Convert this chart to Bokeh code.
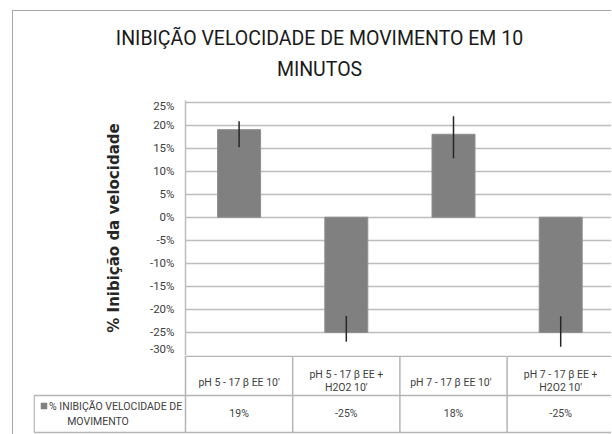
from bokeh.plotting import figure
from bokeh.layouts import column
from bokeh.models import Range1d, FixedTicker, PrintfTickFormatter
from bokeh.core.properties import value
from bokeh.embed import file_html
from bokeh.resources import INLINE

# ---- data ----
categories = ["pH 5 - 17 \u03b2 EE 10'", "pH 5 - 17 \u03b2 EE +\nH2O2 10'",
              "pH 7  - 17 \u03b2 EE  10'", "pH 7 - 17 \u03b2 EE +\nH2O2 10'"]
values = [19, -25, 18, -25]
err_upper = [20.8, -21.4, 21.9, -21.5]
err_lower = [15.2, -27.0, 12.8, -28.1]
value_labels = ["19%", "-25%", "18%", "-25%"]
series_name = ["% INIBI\u00c7\u00c3O VELOCIDADE DE", "MOVIMENTO"]
y_ticks = [-30, -25, -20, -15, -10, -5, 0, 5, 10, 15, 20, 25]
title_lines = ["INIBI\u00c7\u00c3O VELOCIDADE DE MOVIMENTO EM 10", "MINUTOS"]
y_title = "% Inibi\u00e7\u00e3o da velocidade"

# ---- layout constants (pixels) ----
FONT = "Roboto"
W = 598
CAT_PX = 107.2
HEAD_H = 87
FRAME_L = 172            # chart frame left (canvas)
CHART_H = 257
FRAME_T = 2
TBL_L = 20               # table frame left (canvas)
TBL_H = 79

n = len(categories)
xs = [i + 1 for i in range(n)]
x_end = 0.5 + (W - FRAME_L) / CAT_PX

# ---- title block ----
h = figure(width=W, height=HEAD_H, output_backend="svg", toolbar_location=None,
           x_range=Range1d(0, W), y_range=Range1d(HEAD_H, 0),
           x_axis_location=None, y_axis_location=None,
           min_border_left=0, min_border_right=0, min_border_top=0, min_border_bottom=0)
h.outline_line_color = None
h.grid.visible = False
h.frame_align = False
h.text(x=[306, 306], y=[27, 58], text=title_lines, text_align="center", text_baseline="middle",
       text_font=value(FONT), text_font_size="19.5px", text_color="#1a1a1a")

# ---- chart ----
frame_h = CHART_H - FRAME_T
px_per_pct = 253.5 / 55.0
y_top = y_ticks[-1] + (frame_h - 253.5) / px_per_pct

p = figure(width=W, height=CHART_H, output_backend="svg", toolbar_location=None,
           x_range=Range1d(0.5, x_end), y_range=Range1d(y_ticks[0], y_top),
           x_axis_location=None, min_border_left=FRAME_L, min_border_right=0,
           min_border_top=FRAME_T, min_border_bottom=0)
p.frame_align = False
p.outline_line_color = None
p.xgrid.visible = False
p.ygrid.ticker = FixedTicker(ticks=y_ticks)
p.ygrid.grid_line_color = "#bdbdbd"
p.ygrid.grid_line_width = 1.5
ax = p.yaxis[0]
ax.ticker = FixedTicker(ticks=y_ticks)
ax.formatter = PrintfTickFormatter(format="%d%%")
ax.major_tick_line_color = None
ax.minor_tick_line_color = None
ax.major_tick_out = 0
ax.major_tick_in = 0
ax.minor_tick_out = 0
ax.axis_line_color = "#bdbdbd"
ax.axis_line_width = 1.5
ax.major_label_text_font = FONT
ax.major_label_text_font_size = "11.5px"
ax.major_label_text_color = "#404040"
ax.major_label_standoff = 11
ax.axis_label = y_title
ax.axis_label_text_font = "DejaVu Sans"
ax.axis_label_text_font_style = "bold"
ax.axis_label_text_font_size = "15px"
ax.axis_label_text_color = "#262626"
ax.axis_label_standoff = 24

p.vbar(x=xs, top=values, bottom=0, width=43 / CAT_PX,
       fill_color="#808080", line_color="#8f8f8f", line_width=1)
p.segment(x0=xs, y0=err_lower, x1=xs, y1=err_upper, line_color="#262626", line_width=1.5)

# ---- data table below ----
t_start = 0.5 - (FRAME_L - TBL_L) / CAT_PX
t = figure(width=W, height=TBL_H, output_backend="svg", toolbar_location=None,
           x_range=Range1d(t_start, x_end), y_range=Range1d(TBL_H, 0),
           x_axis_location=None, y_axis_location=None,
           min_border_left=TBL_L, min_border_right=0, min_border_top=0, min_border_bottom=0)
t.frame_align = False
t.outline_line_color = None
t.grid.visible = False

LC = "#b5b5b5"
row1_top, row_sep, row_bot = 0.8, 40, 77
left_edge = t_start + 0.006
t.segment(x0=[0.5], y0=[row1_top], x1=[x_end], y1=[row1_top], line_color=LC, line_width=1.5)
t.segment(x0=[left_edge, left_edge], y0=[row_sep, row_bot],
          x1=[x_end, x_end], y1=[row_sep, row_bot], line_color=LC, line_width=1.5)
bounds = [i + 0.5 for i in range(n + 1)]
t.segment(x0=bounds, y0=[row1_top] * len(bounds), x1=bounds, y1=[row_bot] * len(bounds),
          line_color=LC, line_width=1.5)
t.segment(x0=[left_edge], y0=[row_sep], x1=[left_edge], y1=[row_bot],
          line_color=LC, line_width=1.5)

lx, ly, lt = [], [], []
for x, c in zip(xs, categories):
    parts = c.split("\n")
    if len(parts) == 1:
        lx.append(x); ly.append(27); lt.append(parts[0])
    else:
        lx += [x, x]; ly += [18.5, 32]; lt += parts
t.text(x=lx, y=ly, text=lt, text_align="center", text_baseline="middle",
       text_font=value(FONT), text_font_size="10.5px", text_color="#404040")
t.text(x=xs, y=[58] * n, text=value_labels, text_align="center", text_baseline="middle",
       text_font=value(FONT), text_font_size="10.5px", text_color="#404040")

def px2x(px):
    return t_start + (px - 33) / CAT_PX

t.rect(x=[px2x(43.5)], y=[50.5], width=6.5 / CAT_PX, height=6.5,
       fill_color="#808080", line_color=None)
t.text(x=[px2x(48.5)], y=[50.5], text=[series_name[0]], text_align="left", text_baseline="middle",
       text_font=value(FONT), text_font_size="10.5px", text_color="#404040")
t.text(x=[px2x(97.5)], y=[66], text=[series_name[1]], text_align="center", text_baseline="middle",
       text_font=value(FONT), text_font_size="10.5px", text_color="#404040")

layout = column(h, p, t, spacing=0, margin=(10, 0, 0, 12),
                styles={"border-left": "1px solid #a6a6a6", "border-top": "1px solid #a6a6a6"})

open("out.html", "w").write(file_html(layout, INLINE))
